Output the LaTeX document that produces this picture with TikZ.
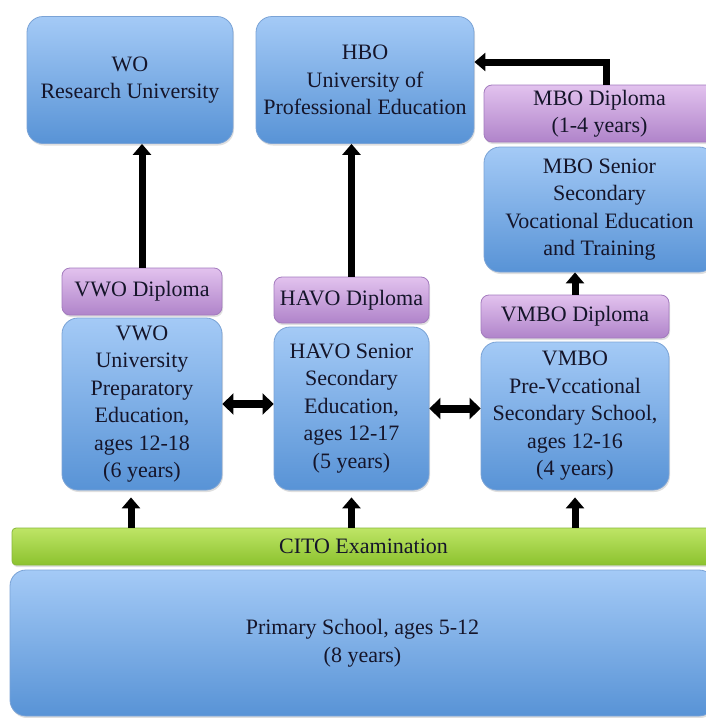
\documentclass[tikz,border=0pt]{standalone}
\usepackage{fontspec}
\setmainfont{Liberation Serif}
\usetikzlibrary{arrows.meta,shadows}

\definecolor{bluetop}{HTML}{A4CAF6}
\definecolor{bluebot}{HTML}{5893D6}
\definecolor{blueline}{HTML}{7AA3D6}
\definecolor{lilatop}{HTML}{E2C2EE}
\definecolor{lilabot}{HTML}{B084CA}
\definecolor{lilaline}{HTML}{A37BBE}
\definecolor{greentop}{HTML}{BEE566}
\definecolor{greenbot}{HTML}{8CC22E}
\definecolor{greenline}{HTML}{86B83A}
\definecolor{textcol}{HTML}{15152A}

\tikzset{
  school/.style={rounded corners=16pt, draw=blueline, line width=0.8pt,
    top color=bluetop, bottom color=bluebot, align=center, inner sep=2pt,
    text=textcol, font=\fontsize{22}{27.5}\selectfont,
    drop shadow={opacity=0.25, shadow xshift=1pt, shadow yshift=-2pt}},
  diploma/.style={school, rounded corners=8pt, draw=lilaline,
    top color=lilatop, bottom color=lilabot},
  exam/.style={school, rounded corners=4pt, draw=greenline,
    top color=greentop, bottom color=greenbot},
  uparrow/.style={line width=7pt, -{Triangle[length=11pt,width=18pt]}},
  twoway/.style={line width=8pt,
    {Triangle[length=11pt,width=21pt]}-{Triangle[length=11pt,width=21pt]}},
}

\begin{document}
\begin{tikzpicture}[x=1pt,y=-1pt] %[?options?]
\clip (0,0) rectangle (706,718);
\fill[white] (0,0) rectangle (706,718);

% top row
\node[school, minimum width=206pt, minimum height=127pt] (wo) at (130,80)
  {WO\\Research University};
\node[school, minimum width=218pt, minimum height=127pt] (hbo) at (365,80)
  {HBO\\University of\\Professional Education};
\node[diploma, minimum width=231pt, minimum height=57pt] (mbodip) at (599.5,113.5)
  {MBO Diploma\\(1-4 years)};
\node[school, minimum width=231pt, minimum height=125pt] (mbo) at (599.5,209.5)
  {MBO Senior\\Secondary\\Vocational Education\\and Training};

% secondary
\node[diploma, minimum width=160pt, minimum height=47pt] (vwodip) at (142,291.5)
  {VWO Diploma};
\node[school, minimum width=160pt, minimum height=172pt] (vwo) at (142,404)
  {VWO\\University\\Preparatory\\Education,\\ages 12-18\\(6 years)};
\node[diploma, minimum width=155pt, minimum height=46pt] (havodip) at (351.5,300)
  {HAVO Diploma};
\node[school, minimum width=155pt, minimum height=163pt] (havo) at (351.5,408.5)
  {HAVO Senior\\Secondary\\Education,\\ages 12-17\\(5 years)};
\node[diploma, minimum width=188pt, minimum height=43pt] (vmbodip) at (575,316.5)
  {VMBO Diploma};
\node[school, minimum width=188pt, minimum height=148pt] (vmbo) at (575,416)
  {VMBO\\Pre-Vccational\\Secondary School,\\ages 12-16\\(4 years)};

% bottom
\node[exam, minimum width=703pt, minimum height=37pt] (cito) at (363.5,546.5)
  {CITO Examination};
\node[school, minimum width=705pt, minimum height=146pt] (primary) at (362.5,643)
  {Primary School, ages 5-12\\(8 years)};

% arrows
\draw[uparrow] (vwodip.north) -- (vwodip.north |- wo.south);
\draw[uparrow] (havodip.north) -- (havodip.north |- hbo.south);
\draw[uparrow] ([xshift=7pt]mbodip.north) |- ([yshift=18pt]hbo.east);
\draw[uparrow] (vmbodip.north) -- (vmbodip.north |- mbo.south);
\draw[twoway] (vwo.east) -- (vwo.east -| havo.west);
\draw[twoway] (havo.east) -- (havo.east -| vmbo.west);
\draw[uparrow] ([xshift=-11pt]vwo.south |- cito.north) -- ([xshift=-11pt,yshift=-7pt]vwo.south);
\draw[uparrow] (havo.south |- cito.north) -- ([yshift=-7pt]havo.south);
\draw[uparrow] (vmbo.south |- cito.north) -- ([yshift=-7pt]vmbo.south);
\end{tikzpicture}
\end{document}
